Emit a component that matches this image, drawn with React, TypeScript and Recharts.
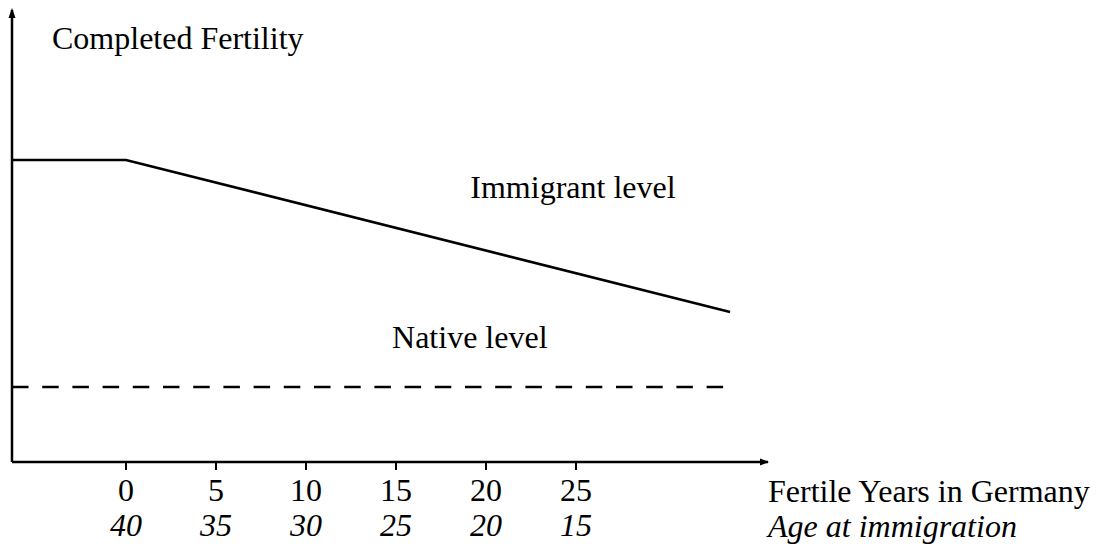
import React from "react";
import {
  ComposedChart,
  Line,
  XAxis,
  YAxis,
  ReferenceDot,
} from "recharts";

// Fertile years in Germany (x) and completed fertility (y, arbitrary units)
const immigrantYears = [-6.333, 0, 33.56];
const immigrantLevel = [3.02, 3.02, 1.5];
const nativeYears = [-6.333, 33.22];
const nativeLevel = [0.75, 0.75];

const yearTicks = [0, 5, 10, 15, 20, 25];
const ageTicks = [40, 35, 30, 25, 20, 15];

const immigrantData = immigrantYears.map((x, i) => ({ x, y: immigrantLevel[i] }));
const nativeData = nativeYears.map((x, i) => ({ x, y: nativeLevel[i] }));

const textProps = {
  fontFamily: "Liberation Serif",
  fontSize: 32,
  fill: "#000",
  style: { fontFamily: "Liberation Serif" },
};

function YearTick(props: any) {
  const { x, y, payload } = props;
  const i = yearTicks.indexOf(payload.value);
  return (
    <g>
      <text x={x} y={y + 31} textAnchor="middle" {...textProps}>
        {payload.value}
      </text>
      <text x={x} y={y + 66} textAnchor="middle" fontStyle="italic" {...textProps}>
        {ageTicks[i]}
      </text>
    </g>
  );
}

function XArrow(props: any) {
  const { x, y, width } = props.viewBox;
  const end = x + width;
  return (
    <g>
      <polygon points={`${end + 1},${y} ${end - 8},${y - 3.5} ${end - 8},${y + 3.5}`} fill="#000" />
      <text x={end} y={y + 40} {...textProps}>
        Fertile Years in Germany
      </text>
      <text x={end} y={y + 75} fontStyle="italic" {...textProps}>
        Age at immigration
      </text>
    </g>
  );
}

function YArrow(props: any) {
  const { x, y, width } = props.viewBox;
  const ax = x + width;
  return (
    <g>
      <polygon points={`${ax},${y - 2} ${ax - 3.5},${y + 8} ${ax + 3.5},${y + 8}`} fill="#000" />
      <text x={ax + 40} y={y + 39} {...textProps}>
        Completed Fertility
      </text>
    </g>
  );
}

function NoteLabel(text: string) {
  return (props: any) => {
    const { x, y, width, height } = props.viewBox;
    return (
      <text x={x + width / 2} y={y + height / 2 + 10} textAnchor="middle" {...textProps}>
        {text}
      </text>
    );
  };
}

export default function App() {
  return (
    <div style={{ width: 1110, height: 542 }}>
      <ComposedChart
        width={1110}
        height={542}
        margin={{ top: 2, right: 350, bottom: 8, left: 3 }}
      >
        <XAxis
          type="number"
          dataKey="x"
          domain={[-6.333, 35.667]}
          allowDataOverflow
          ticks={yearTicks}
          height={80}
          tickSize={8}
          tickMargin={0}
          tick={<YearTick />}
          axisLine={{ stroke: "#000", strokeWidth: 2.5 }}
          tickLine={{ stroke: "#000", strokeWidth: 2 }}
          label={{ content: XArrow }}
        />
        <YAxis
          type="number"
          dataKey="y"
          domain={[0, 4.52]}
          allowDataOverflow
          width={1}
          tick={false}
          tickLine={false}
          axisLine={{ stroke: "#000", strokeWidth: 2.5 }}
          label={{ content: YArrow }}
        />
        <Line
          data={immigrantData}
          dataKey="y"
          type="linear"
          stroke="#000"
          strokeWidth={2.6}
          dot={false}
          isAnimationActive={false}
        />
        <Line
          data={nativeData}
          dataKey="y"
          type="linear"
          stroke="#000"
          strokeWidth={2.6}
          strokeDasharray="16.5 13.7"
          dot={false}
          isAnimationActive={false}
        />
        <ReferenceDot x={24.83} y={2.74} r={0} fill="none" stroke="none" label={{ content: NoteLabel("Immigrant level") }} />
        <ReferenceDot x={19.1} y={1.24} r={0} fill="none" stroke="none" label={{ content: NoteLabel("Native level") }} />
      </ComposedChart>
    </div>
  );
}
